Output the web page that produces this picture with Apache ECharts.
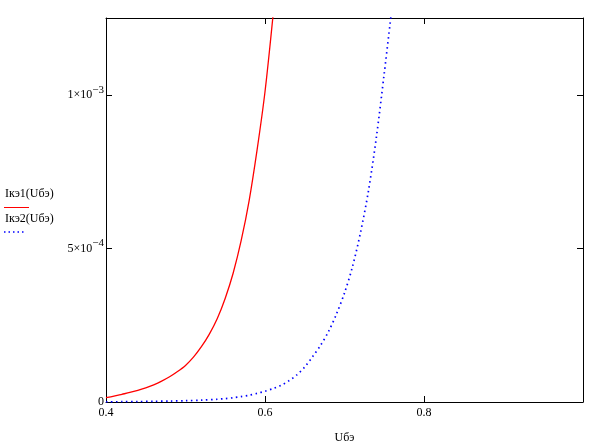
<!DOCTYPE html>
<html>
<head>
<meta charset="utf-8">
<script src="https://cdn.jsdelivr.net/npm/echarts@6/dist/echarts.min.js"></script>
<style>html,body{margin:0;padding:0;background:#fff;}#c{width:600px;height:441px;}</style>
</head>
<body>
<div id="c"></div>
<script>
// Uбэ values (V) and currents (A)
const uRed = [0.40, 0.41, 0.42, 0.43, 0.44, 0.45, 0.46, 0.47, 0.48, 0.49, 0.50, 0.51, 0.52, 0.53, 0.54, 0.55, 0.56, 0.57, 0.58, 0.59, 0.60, 0.61];
const iRed = [1.4e-5, 1.9e-5, 2.5e-5, 3.1e-5, 3.8e-5, 4.6e-5, 5.6e-5, 6.8e-5, 8.2e-5, 9.9e-5, 1.19e-4, 1.46e-4, 1.80e-4, 2.21e-4, 2.72e-4, 3.38e-4, 4.2e-4, 5.25e-4, 6.55e-4, 8.2e-4, 1.01e-3, 1.255e-3];
const uBlue = [0.40, 0.42, 0.44, 0.46, 0.48, 0.50, 0.52, 0.54, 0.55, 0.56, 0.57, 0.58, 0.59, 0.60, 0.61, 0.62, 0.63, 0.64, 0.65, 0.66, 0.67, 0.68, 0.69, 0.70, 0.71, 0.72, 0.73, 0.74, 0.75, 0.76];
const iBlue = [0.5e-6, 1e-6, 1.5e-6, 2.2e-6, 3e-6, 4.2e-6, 6e-6, 9e-6, 1.1e-5, 1.4e-5, 1.75e-5, 2.2e-5, 2.8e-5, 3.5e-5, 4.35e-5, 5.4e-5, 6.9e-5, 8.8e-5, 1.14e-4, 1.48e-4, 1.85e-4, 2.30e-4, 2.87e-4, 3.55e-4, 4.4e-4, 5.5e-4, 6.85e-4, 8.6e-4, 1.07e-3, 1.29e-3];
const xTickLabels = ['0.4', '0.6', '0.8'];
const yTickValues = [0, 5e-4, 1e-3];
const yTickLabels = ['0', '5×10{s|−4}', '1×10{s|−3}'];
const legendNames = ['Iкэ1(Uбэ)', 'Iкэ2(Uбэ)'];
const xName = 'Uбэ';

const FONT = '"Liberation Serif", "Times New Roman", serif';
const chart = echarts.init(document.getElementById('c'), null, {renderer: 'canvas'});

const pairs = (xs, ys) => xs.map((x, i) => [x, ys[i]]);

const axisLine = {show: true, onZero: false, lineStyle: {color: '#000', width: 1}};
const tickIn = {show: true, inside: true, length: 6, lineStyle: {color: '#000', width: 1}};

chart.setOption({
  animation: false,
  backgroundColor: '#fff',
  grid: {left: 106, right: 17, top: 18, bottom: 39, containLabel: false, outerBoundsMode: 'none'},
  xAxis: [{
    type: 'value', min: 0.4, max: 1.0, interval: 0.2,
    axisLine, axisTick: tickIn, splitLine: {show: false},
    axisLabel: {
      color: '#000', fontFamily: FONT, fontSize: 12, margin: 5,
      showMaxLabel: false,
      formatter: v => {
        const s = v.toFixed(1);
        return xTickLabels.indexOf(s) >= 0 ? s : '';
      }
    },
    name: xName, nameLocation: 'middle', nameGap: 30,
    nameTextStyle: {color: '#000', fontFamily: FONT, fontSize: 12}
  }, {
    type: 'value', position: 'top', min: 0.4, max: 1.0, interval: 0.2,
    axisLine, axisTick: tickIn, axisLabel: {show: false}, splitLine: {show: false}
  }],
  yAxis: [{
    type: 'value', min: 0, max: 1.25e-3, interval: 5e-4,
    axisLine, axisTick: tickIn, splitLine: {show: false},
    axisLabel: {
      color: '#000', fontFamily: FONT, fontSize: 12, margin: 2,
      formatter: v => {
        for (let k = 0; k < yTickValues.length; k++) {
          if (Math.abs(v - yTickValues[k]) < 1e-9) return yTickLabels[k];
        }
        return '';
      },
      rich: {
        s: {fontSize: 11, fontFamily: FONT, color: '#000', padding: [0, 0, 10, 0]}
      }
    }
  }, {
    type: 'value', position: 'right', min: 0, max: 1.25e-3, interval: 5e-4,
    axisLine, axisTick: tickIn, axisLabel: {show: false}, splitLine: {show: false}
  }],
  series: [{
    name: legendNames[0], type: 'line', data: pairs(uRed, iRed),
    smooth: 0.3, showSymbol: false, clip: true,
    lineStyle: {color: '#ff0000', width: 1.3}
  }, {
    name: legendNames[1], type: 'line', data: pairs(uBlue, iBlue),
    smooth: 0.3, showSymbol: false, clip: true,
    lineStyle: {color: '#0000ff', width: 1.7, type: [1.5, 3.5]}
  }],
  graphic: [
    {type: 'text', left: 5, top: 188, style: {text: legendNames[0], fill: '#000', font: '12px ' + FONT}},
    {type: 'line', shape: {x1: 4, y1: 207.5, x2: 29, y2: 207.5}, style: {stroke: '#ff0000', lineWidth: 1}},
    {type: 'text', left: 5, top: 213, style: {text: legendNames[1], fill: '#000', font: '12px ' + FONT}},
    {type: 'line', shape: {x1: 4, y1: 232, x2: 25, y2: 232}, style: {stroke: '#0000ff', lineWidth: 1.5, lineDash: [1.5, 3]}}
  ]
});
</script>
</body>
</html>
